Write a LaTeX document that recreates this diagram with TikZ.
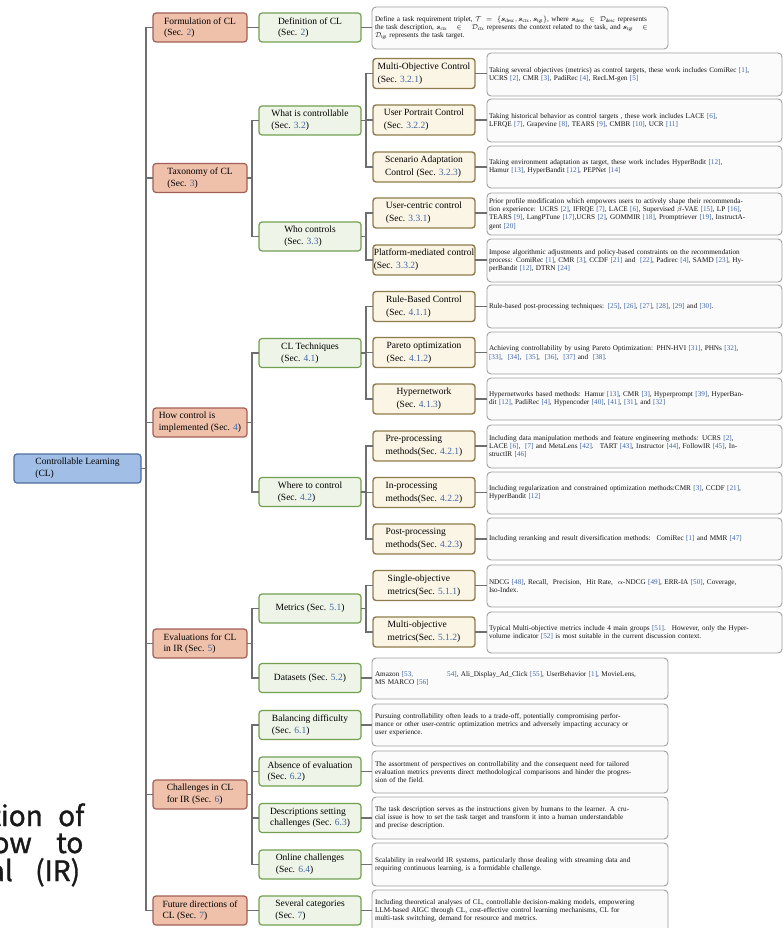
\documentclass[tikz,border=0pt]{standalone}
\usepackage{fontspec}
\usepackage{amsmath}
\setmainfont{Liberation Serif}
\newfontfamily\cjkfont[FakeBold=1.2]{Noto Sans CJK SC}
\definecolor{secblue}{HTML}{3F66A8}
\definecolor{rootfill}{HTML}{A1BEE6}
\definecolor{rootdraw}{HTML}{4F6E9E}
\definecolor{lonefill}{HTML}{EFC1AB}
\definecolor{lonedraw}{HTML}{A35F56}
\definecolor{ltwofill}{HTML}{EEF4E7}
\definecolor{ltwodraw}{HTML}{71A050}
\definecolor{lthreefill}{HTML}{FBF5E5}
\definecolor{lthreedraw}{HTML}{8E7D4C}
\definecolor{tfill}{HTML}{FBFBFB}
\definecolor{tdraw}{HTML}{A0A0A0}
\definecolor{conncol}{HTML}{6F6F6F}
\definecolor{textdark}{HTML}{141414}
\newcommand\mys[1]{\textcolor{secblue}{#1}}
\newcommand\myc[1]{\textcolor{secblue}{[#1]}}
\tikzset{
  base/.style={rounded corners=3pt, line width=1.2pt, align=left, inner sep=0pt, outer sep=0pt,
    font=\fontsize{9.5}{11.6}\selectfont, text=black},
  rootbox/.style={base, fill=rootfill, draw=rootdraw, minimum width=127pt, minimum height=29pt},
  lone/.style={base, fill=lonefill, draw=lonedraw, minimum width=94pt, minimum height=29pt},
  ltwo/.style={base, fill=ltwofill, draw=ltwodraw, minimum width=102pt, minimum height=29pt},
  lthree/.style={base, fill=lthreefill, draw=lthreedraw, line width=1.4pt, minimum width=102pt, minimum height=30pt,
    font=\fontsize{9.5}{13}\selectfont},
  tbox/.style={rounded corners=4pt, line width=0.9pt, fill=tfill, draw=tdraw, align=left,
    inner ysep=0pt, outer sep=0pt, font=\fontsize{7.2}{8.2}\selectfont, text=textdark},
  tright/.style={tbox, inner xsep=2pt, text width=291pt, minimum width=295pt},
  tmid/.style={tbox, inner xsep=3pt, text width=290pt, minimum width=296pt},
  conn/.style={draw=conncol, line width=1.3pt},
  bigt/.style={font=\cjkfont\fontsize{28}{28}\selectfont, inner sep=0pt, text=black!90}
}
\begin{document}
\begin{tikzpicture}[x=1pt,y=-1pt]
\useasboundingbox (0,0) rectangle (783,928);
\clip (0,0) rectangle (783,928);
\fill[white] (0,0) rectangle (783,928);

% partial text at bottom left (cut off at the left edge, as in the reference)
\node[bigt, anchor=base east] (wa) at (43,826) {tion};
\node[bigt, anchor=base west] (wb) at (58,826) {of};
\node[bigt, anchor=base east] (wc) at (32,853) {ow};
\node[bigt, anchor=base west] (wd) at (56,853) {to};
\node[bigt, anchor=base east] (we) at (13,881) {al};
\node[bigt, anchor=base west] (wf) at (35,881) {(IR)};

% root
\node[rootbox] (root) at (77.5,468.5) {Controllable Learning\\(CL)};

% level 1
\node[lone] (form) at (200,27.5) {Formulation of CL\\(Sec. \mys{2})};
\node[lone] (tax) at (200,178) {Taxonomy of CL\\(Sec. \mys{3})};
\node[lone] (how) at (200,422.5) {How control is\\implemented (Sec. \mys{4})};
\node[lone] (eval) at (200,643.5) {Evaluations for CL\\in IR (Sec. \mys{5})};
\node[lone] (chal) at (200,794.5) {Challenges in CL\\for IR (Sec. \mys{6})};
\node[lone] (fut) at (200,910.5) {Future directions of\\CL (Sec. \mys{7})};

% level 2
\node[ltwo] (def) at (310,27.5) {Definition of CL\\(Sec. \mys{2})};
\node[ltwo] (what) at (310,120.5) {What is controllable\\(Sec. \mys{3.2})};
\node[ltwo] (who) at (310,236.5) {Who controls\\(Sec. \mys{3.3})};
\node[ltwo] (cltech) at (310,353) {CL Techniques\\(Sec. \mys{4.1})};
\node[ltwo] (where) at (310,492) {Where to control\\(Sec. \mys{4.2})};
\node[ltwo] (metrics) at (310,608.5) {Metrics (Sec. \mys{5.1})};
\node[ltwo] (datasets) at (310,678) {Datasets (Sec. \mys{5.2})};
\node[ltwo] (bal) at (310,725) {Balancing difficulty\\(Sec. \mys{6.1})};
\node[ltwo] (abs) at (310,771.5) {Absence of evaluation\\(Sec. \mys{6.2})};
\node[ltwo] (desc) at (310,818) {Descriptions setting\\challenges (Sec. \mys{6.3})};
\node[ltwo] (onl) at (310,864.5) {Online challenges\\(Sec. \mys{6.4})};
\node[ltwo] (sev) at (310,910.5) {Several categories\\(Sec. \mys{7})};

% level 3
\node[lthree] (mo) at (424,73.5) {Multi-Objective Control\\(Sec. \mys{3.2.1})};
\node[lthree] (up) at (424,120) {User Portrait Control\\(Sec. \mys{3.2.2})};
\node[lthree] (sa) at (424,167) {Scenario Adaptation\\Control (Sec. \mys{3.2.3})};
\node[lthree] (uc) at (424,213) {User-centric control\\(Sec. \mys{3.3.1})};
\node[lthree] (pm) at (424,260) {Platform-mediated control\\(Sec. \mys{3.3.2})};
\node[lthree] (rb) at (424,306.5) {Rule-Based Control\\(Sec. \mys{4.1.1})};
\node[lthree] (po) at (424,352.5) {Pareto optimization\\(Sec. \mys{4.1.2})};
\node[lthree] (hn) at (424,399) {Hypernetwork\\(Sec. \mys{4.1.3})};
\node[lthree] (pre) at (424,446) {Pre-processing\\methods(Sec. \mys{4.2.1})};
\node[lthree] (inp) at (424,492.5) {In-processing\\methods(Sec. \mys{4.2.2})};
\node[lthree] (post) at (424,539) {Post-processing\\methods(Sec. \mys{4.2.3})};
\node[lthree] (so) at (424,585.5) {Single-objective\\metrics(Sec. \mys{5.1.1})};
\node[lthree] (mobj) at (424,632) {Multi-objective\\metrics(Sec. \mys{5.1.2})};

% text boxes (right column)
\node[tright, minimum height=43pt] (tmo) at (634.5,74.5) {Taking several objectives (metrics) as control targets, these work includes ComiRec \myc{1},\\UCRS \myc{2}, CMR \myc{3}, PadiRec \myc{4}, RecLM-gen \myc{5}};
\node[tright, minimum height=43pt] (tup) at (634.5,120.5) {Taking historical behavior as control targets , these work includes LACE \myc{6},\\LFRQE \myc{7}, Grapevine \myc{8}, TEARS \myc{9}, CMBR \myc{10}, UCR \myc{11}};
\node[tright, minimum height=42pt] (tsa) at (634.5,167) {Taking environment adaptation as target, these work includes HyperBndit \myc{12},\\Hamur \myc{13}, HyperBandit \myc{12}, PEPNet \myc{14}};
\node[tright, minimum height=42pt] (tuc) at (634.5,214) {Prior profile modification which empowers users to actively shape their recommenda-\\tion experience: UCRS \myc{2}, IFRQE \myc{7}, LACE \myc{6}, Supervised $\beta$-VAE \myc{15}, LP \myc{16},\\TEARS \myc{9}, LangPTune \myc{17},UCRS \myc{2}, GOMMIR \myc{18}, Promptriever \myc{19}, InstructA-\\gent \myc{20}};
\node[tright, minimum height=43pt] (tpm) at (634.5,260.5) {Impose algorithmic adjustments and policy-based constraints on the recommendation\\process: ComiRec \myc{1}, CMR \myc{3}, CCDF \myc{21} and~ \myc{22}, Padirec \myc{4}, SAMD \myc{23}, Hy-\\perBandit \myc{12}, DTRN \myc{24}};
\node[tright, minimum height=43pt] (trb) at (634.5,306.5) {Rule-based post-processing techniques: \myc{25}, \myc{26}, \myc{27}, \myc{28}, \myc{29} and \myc{30}.};
\node[tright, minimum height=42pt] (tpo) at (634.5,353) {Achieving controllability by using Pareto Optimization: PHN-HVI \myc{31}, PHNs \myc{32},\\\myc{33}, \ \myc{34}, \ \myc{35}, \ \myc{36}, \ \myc{37} and \ \myc{38}.};
\node[tright, minimum height=42pt] (thn) at (634.5,399) {Hypernetworks based methods: Hamur \myc{13}, CMR \myc{3}, Hyperprompt \myc{39}, HyperBan-\\dit \myc{12}, PadiRec \myc{4}, Hypencoder \myc{40}, \myc{41}, \myc{31}, and \myc{32}};
\node[tright, minimum height=43pt] (tpre) at (634.5,446.5) {Including data manipulation methods and feature engineering methods: UCRS \myc{2},\\LACE \myc{6}, \ \myc{7} and MetaLens \myc{42}. \ TART \myc{43}, Instructor \myc{44}, FollowIR \myc{45}, In-\\structIR \myc{46}};
\node[tright, minimum height=42pt] (tin) at (634.5,493) {Including regularization and constrained optimization methods:CMR \myc{3}, CCDF \myc{21},\\HyperBandit \myc{12}};
\node[tright, minimum height=42pt] (tpost) at (634.5,539) {Including reranking and result diversification methods: \ ComiRec \myc{1} and MMR \myc{47}};
\node[tright, minimum height=42pt] (tso) at (634.5,586) {NDCG \myc{48}, Recall, \ Precision, \ Hit Rate, \ $\alpha$-NDCG \myc{49}, ERR-IA \myc{50}, Coverage,\\Iso-Index.};
\node[tright, minimum height=41pt] (tmobj) at (634.5,632.5) {Typical Multi-objective metrics include 4 main groups \myc{51}. \ However, only the Hyper-\\volume indicator \myc{52} is most suitable in the current discussion context.};

% text boxes (middle column)
\node[tmid, minimum height=42pt] (tdef) at (520,28) {Define a task requirement triplet, $\mathcal{T}\ =\ \{\boldsymbol{s}_{\mathrm{desc}},\boldsymbol{s}_{\mathrm{ctx}},\boldsymbol{s}_{\mathrm{tgt}}\}$, where $\boldsymbol{s}_{\mathrm{desc}}\ \in\ \mathcal{D}_{\mathrm{desc}}$ represents\\the task description, $\boldsymbol{s}_{\mathrm{ctx}}\quad\in\quad\mathcal{D}_{\mathrm{ctx}}$ represents the context related to the task, and $\boldsymbol{s}_{\mathrm{tgt}}\quad\in$\\$\mathcal{D}_{\mathrm{tgt}}$ represents the task target.};
\node[tmid, minimum height=41pt] (tds) at (520,678.5) {Amazon \textcolor{secblue}{[53,\hspace{34pt}54]}, Ali\_Display\_Ad\_Click \myc{55}, UserBehavior \myc{1}, MovieLens,\\MS MARCO \myc{56}};
\node[tmid, minimum height=42pt] (tbal) at (520,725) {Pursuing controllability often leads to a trade-off, potentially compromising perfor-\\mance or other user-centric optimization metrics and adversely impacting accuracy or\\user experience.};
\node[tmid, minimum height=42pt] (tabs) at (520,772) {The assortment of perspectives on controllability and the consequent need for tailored\\evaluation metrics prevents direct methodological comparisons and hinder the progres-\\sion of the field.};
\node[tmid, minimum height=42pt] (tdesc) at (520,818) {The task description serves as the instructions given by humans to the learner. A cru-\\cial issue is how to set the task target and transform it into a human understandable\\and precise description.};
\node[tmid, minimum height=43pt] (tonl) at (520,864.5) {Scalability in realworld IR systems, particularly those dealing with streaming data and\\requiring continuous learning, is a formidable challenge.};
\node[tmid, minimum height=42pt] (tfut) at (520,911) {Including theoretical analyses of CL, controllable decision-making models, empowering\\LLM-based AIGC through CL, cost-effective control learning mechanisms, CL for\\multi-task switching, demand for resource and metrics.};

% connectors: root -> level 1
\foreach \c in {form,tax,how,eval,chal,fut}
  \draw[conn] (root.east) -- ++(5,0) |- (\c.west);
% level 1 -> level 2
\draw[conn] (form.east) -- (def.west);
\foreach \c in {what,who} \draw[conn] (tax.east) -- ++(5,0) |- (\c.west);
\foreach \c in {cltech,where} \draw[conn] (how.east) -- ++(5,0) |- (\c.west);
\foreach \c in {metrics,datasets} \draw[conn] (eval.east) -- ++(5,0) |- (\c.west);
\foreach \c in {bal,abs,desc,onl} \draw[conn] (chal.east) -- ++(5,0) |- (\c.west);
\draw[conn] (fut.east) -- (sev.west);
% level 2 -> level 3
\foreach \c in {mo,up,sa} \draw[conn] (what.east) -- ++(5,0) |- (\c.west);
\foreach \c in {uc,pm} \draw[conn] (who.east) -- ++(5,0) |- (\c.west);
\foreach \c in {rb,po,hn} \draw[conn] (cltech.east) -- ++(5,0) |- (\c.west);
\foreach \c in {pre,inp,post} \draw[conn] (where.east) -- ++(5,0) |- (\c.west);
\foreach \c in {so,mobj} \draw[conn] (metrics.east) -- ++(5,0) |- (\c.west);
% level 2 -> text boxes
\foreach \a/\b in {def/tdef,datasets/tds,bal/tbal,abs/tabs,desc/tdesc,onl/tonl,sev/tfut}
  \draw[conn] (\a.east) -- (\a.east -| \b.west);
% level 3 -> text boxes
\foreach \a/\b in {mo/tmo,up/tup,sa/tsa,uc/tuc,pm/tpm,rb/trb,po/tpo,hn/thn,pre/tpre,inp/tin,post/tpost,so/tso,mobj/tmobj}
  \draw[conn] (\a.east) -- (\a.east -| \b.west);
\end{tikzpicture}
\end{document}
